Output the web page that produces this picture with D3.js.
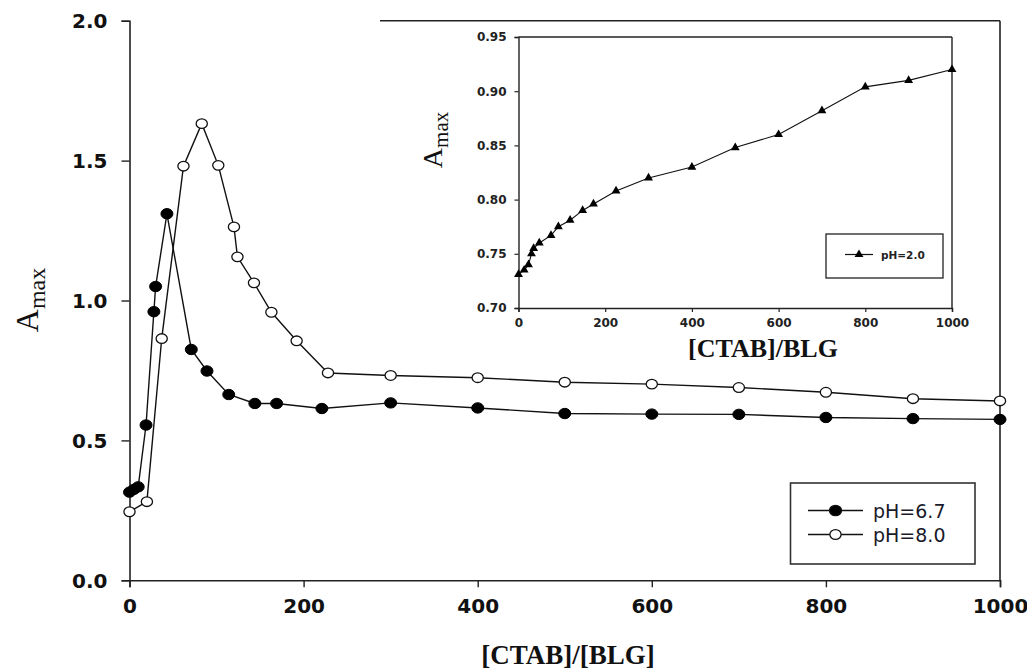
<!DOCTYPE html>
<html>
<head>
<meta charset="utf-8">
<script src="https://cdn.jsdelivr.net/npm/d3@7"></script>
<style>
  html, body { margin: 0; padding: 0; background: #fff; }
  svg { display: block; }
</style>
</head>
<body>
<svg id="chart" width="1027" height="670"></svg>
<script>
// ---------- data ----------
const ph67X = [0, 5, 10, 19, 28, 30, 43, 71, 89, 114, 144, 169, 221, 300, 400, 500, 600, 700, 800, 900, 1000];
const ph67Y = [0.315, 0.325, 0.334, 0.555, 0.96, 1.05, 1.31, 0.825, 0.748, 0.664, 0.632, 0.632, 0.614, 0.634, 0.616, 0.596, 0.594, 0.593, 0.582, 0.578, 0.575];

const ph80X = [0, 20, 37, 62, 83, 102, 120, 124, 143, 163, 192, 228, 300, 400, 500, 600, 700, 800, 900, 1000];
const ph80Y = [0.245, 0.281, 0.864, 1.48, 1.632, 1.483, 1.263, 1.156, 1.063, 0.958, 0.856, 0.741, 0.732, 0.724, 0.708, 0.701, 0.689, 0.672, 0.649, 0.641];

const ph20X = [0, 13, 23, 30, 35, 48, 75, 92, 119, 148, 173, 225, 300, 400, 500, 600, 700, 800, 900, 1000];
const ph20Y = [0.731, 0.735, 0.740, 0.750, 0.755, 0.760, 0.767, 0.775, 0.781, 0.790, 0.796, 0.808, 0.820, 0.830, 0.848, 0.860, 0.882, 0.904, 0.910, 0.920];

const mainXTicks = [0, 200, 400, 600, 800, 1000];
const mainYTicks = [0.0, 0.5, 1.0, 1.5, 2.0];
const insetXTicks = [0, 200, 400, 600, 800, 1000];
const insetYTicks = [0.70, 0.75, 0.80, 0.85, 0.90, 0.95];

const legendMain = ["pH=6.7", "pH=8.0"];
const legendInset = ["pH=2.0"];
const xLabelMain = "[CTAB]/[BLG]";
const xLabelInset = "[CTAB]/BLG";

// ---------- drawing ----------
const svg = d3.select("#chart");
const ink = "#111";

const x = d3.scaleLinear().domain([0, 1000]).range([129.5, 1000]);
const y = d3.scaleLinear().domain([0, 2]).range([580.3, 20.7]);

// main axes
const gx = svg.append("g").attr("transform", `translate(0,${y(0)})`)
  .call(d3.axisBottom(x).tickValues(mainXTicks).tickSize(7).tickPadding(12).tickFormat(d3.format("d")));
const gy = svg.append("g").attr("transform", `translate(${x(0)},0)`)
  .call(d3.axisLeft(y).tickValues(mainYTicks).tickSize(8).tickPadding(14).tickFormat(d3.format(".1f")));
[gx, gy].forEach(g => {
  g.select(".domain").attr("stroke", "#222").attr("stroke-width", 1.6);
  g.selectAll(".tick line").attr("stroke", "#222").attr("stroke-width", 1.4);
  g.selectAll(".tick text").attr("fill", ink)
    .style("font-family", "'DejaVu Sans', sans-serif").style("font-weight", "bold").style("font-size", "20px");
});
gy.selectAll(".tick text").attr("dy", "0.36em");

// right and top frame
svg.append("line").attr("x1", x(1000)).attr("x2", x(1000)).attr("y1", y(2)).attr("y2", y(0))
  .attr("stroke", "#222").attr("stroke-width", 1.6);
svg.append("line").attr("x1", 380).attr("x2", x(1000)).attr("y1", y(2)).attr("y2", y(2))
  .attr("stroke", "#222").attr("stroke-width", 1.6);

// axis titles
svg.append("text").attr("x", 568).attr("y", 664).attr("text-anchor", "middle")
  .style("font-family", "'Liberation Serif', serif").style("font-weight", "bold").style("font-size", "27px")
  .attr("fill", ink).text(xLabelMain);

const yl = svg.append("text").attr("transform", "translate(38,300) rotate(-90)").attr("text-anchor", "middle")
  .style("font-family", "'Liberation Serif', serif").attr("fill", ink);
yl.append("tspan").style("font-size", "32px").text("A");
yl.append("tspan").style("font-size", "24px").attr("dy", 7).text("max");

// main series
const line = d3.line().x(d => x(d[0])).y(d => y(d[1]));
const s67 = ph67X.map((v, i) => [v, ph67Y[i]]);
const s80 = ph80X.map((v, i) => [v, ph80Y[i]]);

svg.append("path").datum(s67).attr("d", line).attr("fill", "none").attr("stroke", "#111").attr("stroke-width", 1.4);
svg.append("path").datum(s80).attr("d", line).attr("fill", "none").attr("stroke", "#111").attr("stroke-width", 1.4);

svg.append("g").selectAll("ellipse").data(s80).join("ellipse")
  .attr("cx", d => x(d[0])).attr("cy", d => y(d[1])).attr("rx", 5.6).attr("ry", 4.8)
  .attr("fill", "#fff").attr("stroke", "#111").attr("stroke-width", 1.3);
svg.append("g").selectAll("ellipse").data(s67).join("ellipse")
  .attr("cx", d => x(d[0])).attr("cy", d => y(d[1])).attr("rx", 6).attr("ry", 5.2)
  .attr("fill", "#000").attr("stroke", "#000").attr("stroke-width", 1);

// main legend
svg.append("rect").attr("x", 790.5).attr("y", 483).attr("width", 184.5).attr("height", 81)
  .attr("fill", "#fff").attr("stroke", "#333").attr("stroke-width", 1.6);
const legRows = [510.5, 534.5];
legendMain.forEach((t, i) => {
  const ly = legRows[i];
  svg.append("line").attr("x1", 808).attr("x2", 863).attr("y1", ly).attr("y2", ly).attr("stroke", "#111").attr("stroke-width", 1.4);
  svg.append("ellipse").attr("cx", 835.5).attr("cy", ly).attr("rx", i === 0 ? 6 : 5.6).attr("ry", i === 0 ? 5.2 : 4.8)
    .attr("fill", i === 0 ? "#000" : "#fff").attr("stroke", "#111").attr("stroke-width", 1.3);
  svg.append("text").attr("x", 873).attr("y", ly + 7)
    .style("font-family", "'DejaVu Sans', sans-serif").style("font-size", "19px").attr("fill", "#1a1a2a").text(t);
});

// ---------- inset ----------
const xi = d3.scaleLinear().domain([0, 1000]).range([518.5, 952]);
const yi = d3.scaleLinear().domain([0.70, 0.95]).range([308, 37]);

const gxi = svg.append("g").attr("transform", `translate(0,${yi(0.70)})`)
  .call(d3.axisBottom(xi).tickValues(insetXTicks).tickSize(4).tickPadding(6).tickFormat(d3.format("d")));
const gyi = svg.append("g").attr("transform", `translate(${xi(0)},0)`)
  .call(d3.axisLeft(yi).tickValues(insetYTicks).tickSize(4).tickPadding(8).tickFormat(d3.format(".2f")));
[gxi, gyi].forEach(g => {
  g.select(".domain").attr("stroke", "#222").attr("stroke-width", 1.4);
  g.selectAll(".tick line").attr("stroke", "#222").attr("stroke-width", 1.2);
  g.selectAll(".tick text").attr("fill", "#222")
    .style("font-family", "'DejaVu Sans', sans-serif").style("font-weight", "bold").style("font-size", "12px");
});
svg.append("line").attr("x1", xi(0)).attr("x2", xi(1000)).attr("y1", yi(0.95)).attr("y2", yi(0.95))
  .attr("stroke", "#222").attr("stroke-width", 1.4);
svg.append("line").attr("x1", xi(1000)).attr("x2", xi(1000)).attr("y1", yi(0.95)).attr("y2", yi(0.70))
  .attr("stroke", "#222").attr("stroke-width", 1.4);

svg.append("text").attr("x", 763).attr("y", 357).attr("text-anchor", "middle")
  .style("font-family", "'Liberation Serif', serif").style("font-weight", "bold").style("font-size", "26px")
  .attr("fill", ink).text(xLabelInset);

const yli = svg.append("text").attr("transform", "translate(442,140) rotate(-90)").attr("text-anchor", "middle")
  .style("font-family", "'Liberation Serif', serif").attr("fill", ink);
yli.append("tspan").style("font-size", "28px").text("A");
yli.append("tspan").style("font-size", "21px").attr("dy", 6).text("max");

const s20 = ph20X.map((v, i) => [v, ph20Y[i]]);
const linei = d3.line().x(d => xi(d[0])).y(d => yi(d[1]));
svg.append("path").datum(s20).attr("d", linei).attr("fill", "none").attr("stroke", "#111").attr("stroke-width", 1.1);
const tri = d3.symbol().type(d3.symbolTriangle).size(34);
svg.append("g").selectAll("path").data(s20).join("path")
  .attr("transform", d => `translate(${xi(d[0])},${yi(d[1])})`).attr("d", tri).attr("fill", "#000");

// inset legend
svg.append("rect").attr("x", 826).attr("y", 234).attr("width", 117).attr("height", 44)
  .attr("fill", "#fff").attr("stroke", "#222").attr("stroke-width", 1.3);
svg.append("line").attr("x1", 845).attr("x2", 873).attr("y1", 254.5).attr("y2", 254.5).attr("stroke", "#111").attr("stroke-width", 1.2);
svg.append("path").attr("transform", "translate(859,254.5)").attr("d", tri).attr("fill", "#000");
svg.append("text").attr("x", 881).attr("y", 258.5)
  .style("font-family", "'DejaVu Sans', sans-serif").style("font-weight", "bold").style("font-size", "10.5px")
  .attr("fill", "#222").text(legendInset[0]);
</script>
</body>
</html>
